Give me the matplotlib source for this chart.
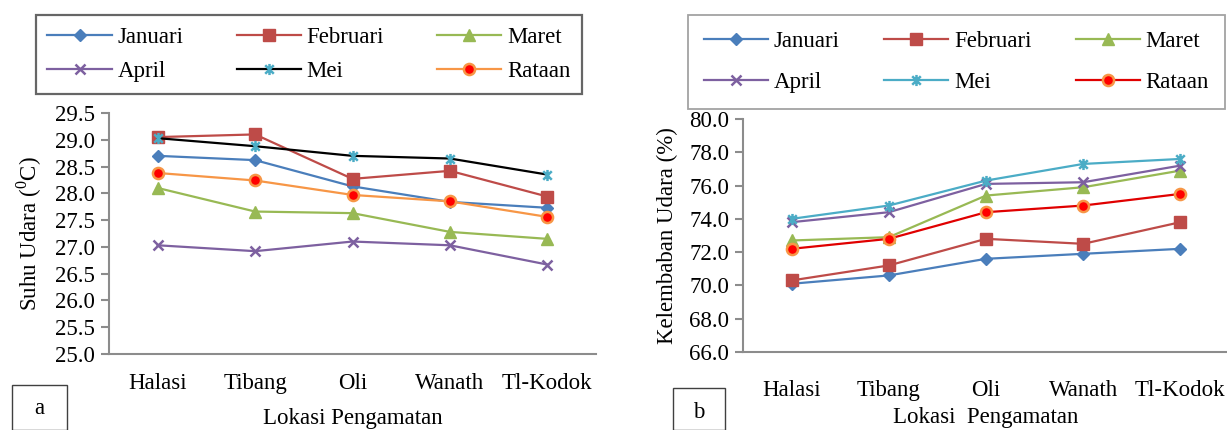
import matplotlib
matplotlib.use("Agg")
import matplotlib.pyplot as plt
from matplotlib.path import Path
from matplotlib.patches import Rectangle

plt.rcParams["font.family"] = ["Liberation Serif", "DejaVu Serif"]
plt.rcParams["mathtext.fontset"] = "custom"
plt.rcParams["mathtext.rm"] = "Liberation Serif"

lokasi = ["Halasi", "Tibang", "Oli", "Wanath", "Tl-Kodok"]
bulan = ["Januari", "Februari", "Maret", "April", "Mei", "Rataan"]

# Suhu udara (C)
suhu_jan = [28.70, 28.62, 28.13, 27.84, 27.73]
suhu_feb = [29.05, 29.10, 28.27, 28.42, 27.94]
suhu_mar = [28.10, 27.66, 27.63, 27.28, 27.15]
suhu_apr = [27.03, 26.92, 27.10, 27.03, 26.67]
suhu_mei = [29.03, 28.88, 28.70, 28.65, 28.35]
suhu_rata = [28.38, 28.24, 27.97, 27.85, 27.56]

# Kelembaban udara (%)
rh_jan = [70.1, 70.6, 71.6, 71.9, 72.2]
rh_feb = [70.3, 71.2, 72.8, 72.5, 73.8]
rh_mar = [72.7, 72.9, 75.4, 75.9, 76.9]
rh_apr = [73.8, 74.4, 76.1, 76.2, 77.2]
rh_mei = [74.0, 74.8, 76.3, 77.3, 77.6]
rh_rata = [72.2, 72.8, 74.4, 74.8, 75.5]

# Excel style asterisk marker (x with a vertical bar)
asterisk = Path(
    [(-1, -1), (1, 1), (-1, 1), (1, -1), (0, -1.3), (0, 1.3)],
    [Path.MOVETO, Path.LINETO, Path.MOVETO, Path.LINETO, Path.MOVETO, Path.LINETO],
)

BLUE = "#4A7EBB"
RED = "#BE4B48"
GREEN = "#98B954"
PURPLE = "#7D60A0"
CYAN = "#4BACC6"
ORANGE = "#F79646"
FS = 16.5


def styles(mei_line, rata_line):
    return [
        dict(color=BLUE, marker="D", ms=6, mfc=BLUE, mec=BLUE),
        dict(color=RED, marker="s", ms=8, mfc=RED, mec=RED),
        dict(color=GREEN, marker="^", ms=8, mfc=GREEN, mec=GREEN),
        dict(color=PURPLE, marker="x", ms=7, mec=PURPLE, mew=1.8),
        dict(color=mei_line, marker=asterisk, ms=8, mec=CYAN, mew=1.8),
        dict(color=rata_line, marker="o", ms=8, mfc="#FF0000", mec=ORANGE, mew=1.8),
    ]


fig = plt.figure(figsize=(12.27, 4.30), dpi=100)

W, H = 1227.0, 430.0


def px_axes(x0, x1, ytop, ybot):
    return fig.add_axes([x0 / W, 1 - ybot / H, (x1 - x0) / W, (ybot - ytop) / H])


ax1 = px_axes(109, 596, 113, 354)
ax2 = px_axes(743, 1229, 119, 352)

x = list(range(len(lokasi)))

s1 = styles("#000000", ORANGE)
for name, vals, st in zip(bulan, [suhu_jan, suhu_feb, suhu_mar, suhu_apr, suhu_mei, suhu_rata], s1):
    ax1.plot(x, vals, lw=1.6, label=name, **st)

s2 = styles(CYAN, "#E00000")
for name, vals, st in zip(bulan, [rh_jan, rh_feb, rh_mar, rh_apr, rh_mei, rh_rata], s2):
    ax2.plot(x, vals, lw=1.6, label=name, **st)

ax1.set_ylim(25.0, 29.5)
ax1.set_yticks([25.0 + 0.5 * i for i in range(10)])
ax1.set_yticklabels([f"{25.0 + 0.5 * i:.1f}" for i in range(10)])
ax1.set_ylabel("Suhu Udara ($^{\\mathrm{0}}$C)", fontsize=FS, labelpad=8)
ax1.set_xlabel("Lokasi Pengamatan", fontsize=FS, labelpad=10)

ax2.set_ylim(66.0, 80.0)
ax2.set_yticks([66.0 + 2 * i for i in range(8)])
ax2.set_yticklabels([f"{66.0 + 2 * i:.1f}" for i in range(8)])
ax2.set_ylabel("Kelembaban Udara (%)", fontsize=FS, labelpad=8)
ax2.set_xlabel("Lokasi  Pengamatan", fontsize=FS, labelpad=4.5)

for ax, xpad in ((ax1, 14), (ax2, 20)):
    ax.set_xlim(-0.5, len(lokasi) - 0.5)
    ax.set_xticks(x)
    ax.set_xticklabels(lokasi)
    for side in ("top", "right"):
        ax.spines[side].set_visible(False)
    for side in ("left", "bottom"):
        ax.spines[side].set_color("#8C8C8C")
        ax.spines[side].set_linewidth(1.5)
    ax.tick_params(axis="y", length=6, width=1.5, color="#8C8C8C", labelsize=FS, pad=4)
    ax.tick_params(axis="x", length=0, labelsize=FS, pad=xpad)
    ax.set_facecolor("none")

# legend filled row by row: Jan Feb Mar / Apr Mei Rataan
order = [0, 3, 1, 4, 2, 5]

h1, l1 = ax1.get_legend_handles_labels()
leg1 = fig.legend([h1[i] for i in order], [l1[i] for i in order], loc="center",
                  ncol=3, mode="expand",
                  bbox_to_anchor=(36 / W, 1 - 97 / H, 546 / W, 85 / H),
                  fontsize=FS, handlelength=2.8, frameon=True, fancybox=False,
                  borderpad=0.5, labelspacing=0.6, columnspacing=1.0,
                  handletextpad=0.25, borderaxespad=0)
leg1.get_frame().set_edgecolor("#404040")
leg1.get_frame().set_linewidth(1.6)

h2, l2 = ax2.get_legend_handles_labels()
leg2 = fig.legend([h2[i] for i in order], [l2[i] for i in order], loc="center",
                  ncol=3, mode="expand",
                  bbox_to_anchor=(688 / W, 1 - 112 / H, 537 / W, 100 / H),
                  fontsize=FS, handlelength=2.8, frameon=True, fancybox=False,
                  borderpad=0.7, labelspacing=0.9, columnspacing=1.0,
                  handletextpad=0.25, borderaxespad=0)
leg2.get_frame().set_edgecolor("#8C8C8C")
leg2.get_frame().set_linewidth(1.3)

# panel label boxes
for (bx0, bx1, by0, lab) in [(12, 67, 385, "a"), (673, 725, 388, "b")]:
    fig.patches.append(Rectangle((bx0 / W, 0), (bx1 - bx0) / W, 1 - by0 / H,
                                 transform=fig.transFigure, fill=False,
                                 edgecolor="#404040", lw=1.0))
    fig.text((bx0 + bx1) / 2 / W, 1 - (by0 + 24) / H, lab, ha="center",
             va="center", fontsize=FS)

fig.savefig("out.png", dpi=100)
